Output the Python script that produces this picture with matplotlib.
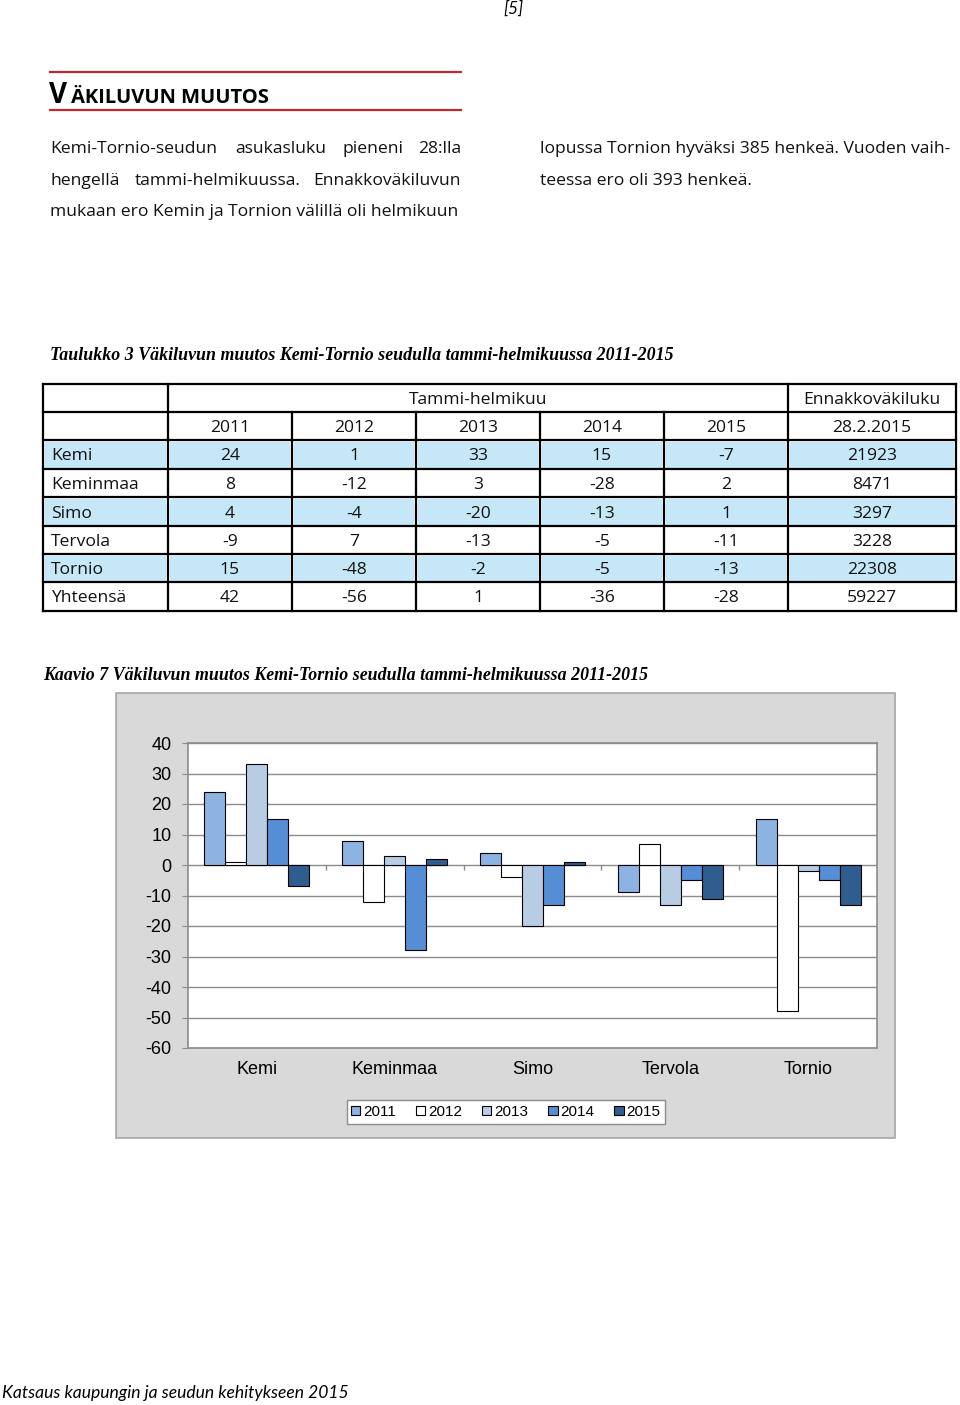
"""Page 5: population change table and bar chart, Kemi-Tornio region."""
import matplotlib
matplotlib.use("Agg")
import matplotlib.pyplot as plt
import numpy as np
from matplotlib.patches import Rectangle

plt.rcParams["axes.unicode_minus"] = False

W, H = 960, 1405

# --- data ---
municipalities = ["Kemi", "Keminmaa", "Simo", "Tervola", "Tornio"]
years = ["2011", "2012", "2013", "2014", "2015"]
kemi = [24, 1, 33, 15, -7]
keminmaa = [8, -12, 3, -28, 2]
simo = [4, -4, -20, -13, 1]
tervola = [-9, 7, -13, -5, -11]
tornio = [15, -48, -2, -5, -13]
yhteensa = [42, -56, 1, -36, -28]
ennakko = [21923, 8471, 3297, 3228, 22308, 59227]

values = np.array([kemi, keminmaa, simo, tervola, tornio])
table_rows = municipalities + ["Yhteensä"]
table_vals = [kemi, keminmaa, simo, tervola, tornio, yhteensa]

bar_colors = ["#8db3e2", "#ffffff", "#b8cce4", "#558ed5", "#2f5d8f"]
SANS = "Open Sans"

fig = plt.figure(figsize=(W / 100, H / 100), dpi=100)
page = fig.add_axes([0, 0, 1, 1])
page.set_xlim(0, W)
page.set_ylim(H, 0)
page.axis("off")

# header / page number
page.text(513, 9, "[5]", fontsize=12.5, family="Lato", style="italic", ha="center", va="center")

# heading with red rules
page.plot([50, 461], [72, 72], color="#c0282d", lw=1.6)
page.plot([50, 461], [110, 110], color="#c0282d", lw=1.6)
page.text(49, 103, "V", fontsize=20, family=SANS, weight="bold", ha="left", va="baseline")
page.text(71, 103, "ÄKILUVUN MUUTOS", fontsize=14.5, family=SANS, weight="bold", ha="left", va="baseline")

# body text (justified lines placed word by word)
body_kw = dict(fontsize=12.6, family=SANS, va="center", color="#111111")
for x, w in [(50, "Kemi-Tornio-seudun"), (235, "asukasluku"), (342, "pieneni"), (461, "28:lla")]:
    page.text(x, 149, w, ha="right" if w == "28:lla" else "left", **body_kw)
for x, w in [(50, "hengellä"), (135, "tammi-helmikuussa."), (461, "Ennakkoväkiluvun")]:
    page.text(x, 181, w, ha="right" if w == "Ennakkoväkiluvun" else "left", **body_kw)
page.text(50, 212, "mukaan ero Kemin ja Tornion välillä oli helmikuun", ha="left", **body_kw)
page.text(540, 149, "lopussa Tornion hyväksi 385 henkeä. Vuoden vaih-", ha="left", **body_kw)
page.text(540, 181, "teessa ero oli 393 henkeä.", ha="left", **body_kw)

# table caption
cap_kw = dict(fontsize=12.9, family="Liberation Serif", weight="bold", style="italic", va="center", ha="left")
page.text(50, 356, "Taulukko 3 Väkiluvun muutos Kemi-Tornio seudulla tammi-helmikuussa 2011-2015", **cap_kw)

# table
col_edges = [43, 168, 292, 416, 540, 664, 788, 956]
row_edges = [384, 412, 440, 469, 497, 526, 554, 582, 611]
blue = "#c6e7f8"
for i in range(len(table_rows)):
    if i % 2 == 0:
        top, bot = row_edges[i + 2], row_edges[i + 3]
        for c in range(len(col_edges) - 1):
            page.add_patch(Rectangle((col_edges[c] + 2, top + 1.5), col_edges[c + 1] - col_edges[c] - 4,
                                     bot - top - 3, facecolor=blue, edgecolor="none"))
lw = 1.6
for y in row_edges:
    page.plot([col_edges[0], col_edges[-1]], [y, y], color="black", lw=lw, solid_capstyle="projecting")
for x in col_edges:
    if x in (43, 168, 788, 956):
        page.plot([x, x], [row_edges[0], row_edges[-1]], color="black", lw=lw)
    else:
        page.plot([x, x], [row_edges[1], row_edges[-1]], color="black", lw=lw)

tab_kw = dict(fontsize=12.6, family=SANS, va="center", color="#111111")
dy = 2
page.text((col_edges[1] + col_edges[6]) / 2, 398 + dy, "Tammi-helmikuu", ha="center", **tab_kw)
page.text((col_edges[6] + col_edges[7]) / 2, 398 + dy, "Ennakkoväkiluku", ha="center", **tab_kw)
for c, yr in enumerate(years):
    page.text((col_edges[c + 1] + col_edges[c + 2]) / 2, 426 + dy, yr, ha="center", **tab_kw)
page.text((col_edges[6] + col_edges[7]) / 2, 426 + dy, "28.2.2015", ha="center", **tab_kw)
for i, name in enumerate(table_rows):
    yc = (row_edges[i + 2] + row_edges[i + 3]) / 2 + dy
    page.text(col_edges[0] + 8, yc, name, ha="left", **tab_kw)
    for c, v in enumerate(table_vals[i]):
        page.text((col_edges[c + 1] + col_edges[c + 2]) / 2, yc, str(v), ha="center", **tab_kw)
    page.text((col_edges[6] + col_edges[7]) / 2, yc, str(ennakko[i]), ha="center", **tab_kw)

# chart caption and gray frame
page.text(43, 676, "Kaavio 7 Väkiluvun muutos Kemi-Tornio seudulla tammi-helmikuussa 2011-2015", **cap_kw)
page.add_patch(Rectangle((116, 693), 779, 445, facecolor="#d9d9d9", edgecolor="#a6a6a6", lw=1.2))

# bar chart
ax = fig.add_axes([188 / W, 1 - 1048 / H, (877 - 188) / W, (1048 - 743) / H])
ax.set_facecolor("white")
x = np.arange(len(municipalities))
bw = 21 / 138
for j, yr in enumerate(years):
    ax.bar(x + (j - 2) * bw, values[:, j], width=bw, color=bar_colors[j],
           edgecolor="black", linewidth=0.8, label=yr, zorder=3)
ax.set_xlim(-0.5, len(municipalities) - 0.5)
ax.set_ylim(-60, 40)
ax.set_yticks(range(-60, 41, 10))
ax.yaxis.grid(True, color="#8c8c8c", lw=1, zorder=0)
ax.vlines(x[:-1] + 0.5, -1.7, 0, color="#8c8c8c", lw=1, zorder=2)
ax.set_xticks(x)
ax.set_xticklabels(municipalities)
ax.tick_params(axis="x", length=0, pad=9)
ax.tick_params(axis="y", length=4, color="#8c8c8c", pad=8)
for lab in ax.get_xticklabels() + ax.get_yticklabels():
    lab.set_fontsize(13)
    lab.set_family("Liberation Sans")
for sp in ax.spines.values():
    sp.set_color("#8c8c8c")
    sp.set_linewidth(1.2)

fig.legend(loc="center", bbox_to_anchor=(506 / W, 1 - 1112 / H), ncol=5, frameon=True, fancybox=False,
           edgecolor="#8c8c8c", framealpha=1, prop={"family": "Liberation Sans", "size": 11},
           handlelength=0.6, handleheight=0.6, handletextpad=0.2, columnspacing=1.3,
           borderpad=0.3, borderaxespad=0)

# footer
page.text(2, 1393, "Katsaus kaupungin ja seudun kehitykseen 2015", fontsize=12.65, family="Lato",
          style="italic", ha="left", va="center")

fig.savefig("out.png", dpi=100)
